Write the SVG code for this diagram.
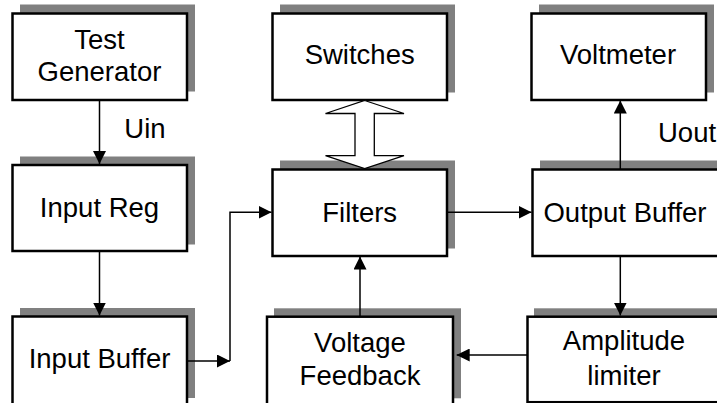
<svg xmlns="http://www.w3.org/2000/svg" width="717" height="403" viewBox="0 0 717 403">
<style>
.shadow{fill:#808080;stroke:none}
.box{fill:#ffffff;stroke:#000000;stroke-width:2.5}
.lbl{font-family:"Liberation Sans",Arial,sans-serif;font-size:27.5px;fill:#000000;text-anchor:middle}
.sig{font-family:"Liberation Sans",Arial,sans-serif;font-size:27.5px;fill:#000000}
.conn{fill:none;stroke:#000000;stroke-width:1.5}
.dbl{fill:#ffffff;stroke:#000000;stroke-width:1.3}
</style>
<defs>
<marker id="ah" viewBox="0 0 13 13" refX="13" refY="6.5" markerWidth="13" markerHeight="13" markerUnits="userSpaceOnUse" orient="auto">
<path d="M0,0 L13,6.5 L0,13 z" fill="#000000"/>
</marker>
</defs>
<rect width="717" height="403" fill="#ffffff"/>

<g id="test-generator">
<rect class="shadow" x="20" y="4.5" width="175" height="87"/>
<rect class="box" x="12.5" y="13.5" width="174.5" height="86.5"/>
<text class="lbl" x="99.5" y="49.3">Test</text>
<text class="lbl" x="99.5" y="81">Generator</text>
</g>

<g id="input-reg">
<rect class="shadow" x="20" y="156.5" width="175" height="88"/>
<rect class="box" x="12.5" y="165" width="174.5" height="86"/>
<text class="lbl" x="99.5" y="216.7">Input Reg</text>
</g>

<g id="input-buffer">
<rect class="shadow" x="20" y="308" width="175" height="90"/>
<rect class="box" x="12.5" y="316.5" width="174.5" height="92"/>
<text class="lbl" x="99.5" y="367.7">Input Buffer</text>
</g>

<g id="switches">
<rect class="shadow" x="280" y="4.5" width="175" height="88"/>
<rect class="box" x="272.5" y="13.5" width="174.5" height="86.5"/>
<text class="lbl" x="359.7" y="64.3">Switches</text>
</g>

<g id="filters">
<rect class="shadow" x="280" y="160.5" width="175" height="88"/>
<rect class="box" x="272.5" y="169.5" width="174.5" height="86.5"/>
<text class="lbl" x="359.7" y="221.7">Filters</text>
</g>

<g id="voltage-feedback">
<rect class="shadow" x="274" y="308.3" width="187" height="90"/>
<rect class="box" x="267" y="316.7" width="186" height="92"/>
<text class="lbl" x="360" y="351.7">Voltage</text>
<text class="lbl" x="360" y="385">Feedback</text>
</g>

<g id="voltmeter">
<rect class="shadow" x="539" y="4.5" width="175" height="88"/>
<rect class="box" x="531.5" y="13.5" width="174.5" height="86.5"/>
<text class="lbl" x="618" y="64.3">Voltmeter</text>
</g>

<g id="output-buffer">
<rect class="shadow" x="540" y="160.5" width="190" height="88"/>
<rect class="box" x="532.5" y="169.5" width="188" height="86.5"/>
<text class="lbl" x="625" y="221.7">Output Buffer</text>
</g>

<g id="amplitude-limiter">
<rect class="shadow" x="534" y="308.3" width="195" height="86"/>
<rect class="box" x="527.5" y="316.7" width="194" height="85.5"/>
<text class="lbl" x="624" y="350">Amplitude</text>
<text class="lbl" x="624" y="385">limiter</text>
</g>

<g id="connectors">
<path class="conn" d="M99.5,100 V164" marker-end="url(#ah)"/>
<path class="conn" d="M99.5,251 V315.5" marker-end="url(#ah)"/>
<path class="conn" d="M187,361 H230" marker-end="url(#ah)"/>
<path class="conn" d="M230,361 V212.3 H271.5" marker-end="url(#ah)"/>
<path class="conn" d="M447,212.3 H531.5" marker-end="url(#ah)"/>
<path class="conn" d="M620.3,169.5 V100.5" marker-end="url(#ah)"/>
<path class="conn" d="M620.3,256 V315.5" marker-end="url(#ah)"/>
<path class="conn" d="M527.5,355 H456.7" marker-end="url(#ah)"/>
<path class="conn" d="M360,316.7 V256.5" marker-end="url(#ah)"/>
<polygon class="dbl" points="364.7,100.5 404,113.5 374.3,113.5 374.3,155.7 404,155.7 364.7,168.5 325.5,155.7 355,155.7 355,113.5 325.5,113.5"/>
<text class="sig" x="124.3" y="138.3">Uin</text>
<text class="sig" x="658" y="141.7">Uout</text>
</g>
</svg>
